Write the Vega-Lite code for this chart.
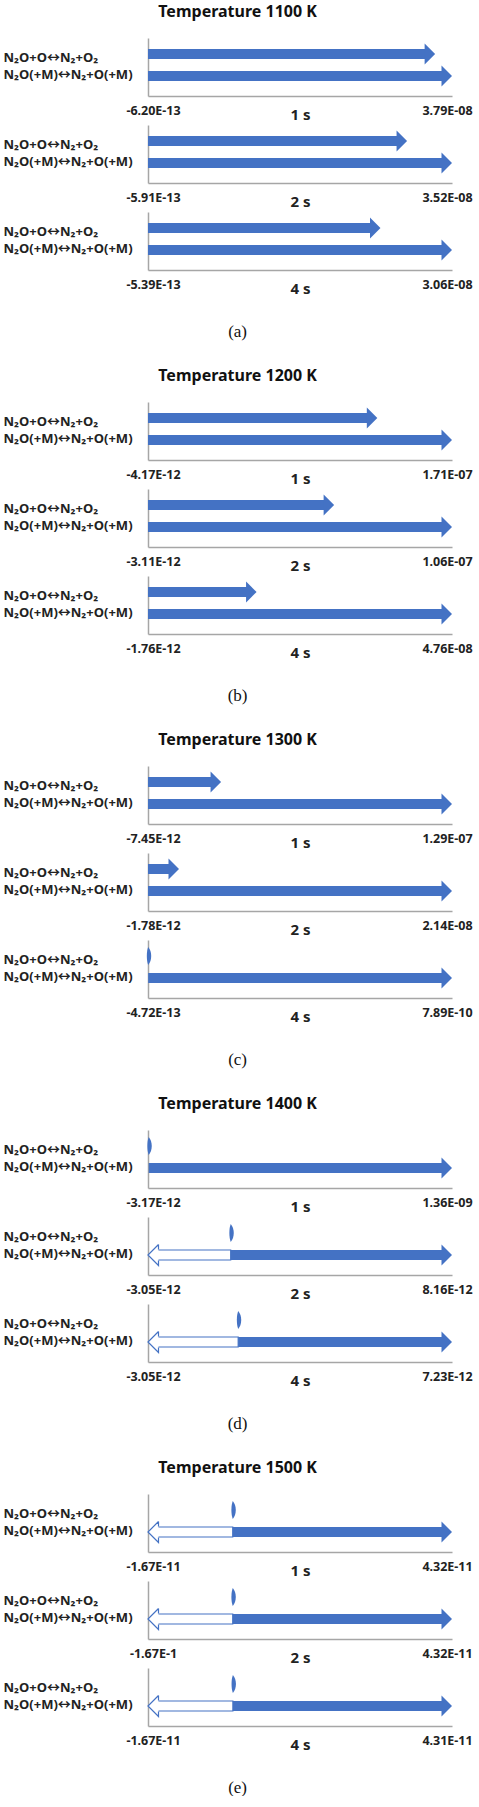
{
  "$schema": "https://vega.github.io/schema/vega-lite/v6.json",
  "background": "white",
  "padding": {"left": 3, "top": 4, "right": 0, "bottom": 0},
  "datasets": {
    "n2o": [
      {"T": 1100, "t": 1, "rxn": "N₂O+O↔N₂+O₂", "value": 3.58e-8},
      {"T": 1100, "t": 1, "rxn": "N₂O(+M)↔N₂+O(+M)", "value": 3.79e-8},
      {"T": 1100, "t": 1, "rxn": "N₂O(+M)↔N₂+O(+M)", "value": -6.2e-13},
      {"T": 1100, "t": 2, "rxn": "N₂O+O↔N₂+O₂", "value": 3.0e-8},
      {"T": 1100, "t": 2, "rxn": "N₂O(+M)↔N₂+O(+M)", "value": 3.52e-8},
      {"T": 1100, "t": 2, "rxn": "N₂O(+M)↔N₂+O(+M)", "value": -5.91e-13},
      {"T": 1100, "t": 4, "rxn": "N₂O+O↔N₂+O₂", "value": 2.34e-8},
      {"T": 1100, "t": 4, "rxn": "N₂O(+M)↔N₂+O(+M)", "value": 3.06e-8},
      {"T": 1100, "t": 4, "rxn": "N₂O(+M)↔N₂+O(+M)", "value": -5.39e-13},
      {"T": 1200, "t": 1, "rxn": "N₂O+O↔N₂+O₂", "value": 1.29e-7},
      {"T": 1200, "t": 1, "rxn": "N₂O(+M)↔N₂+O(+M)", "value": 1.71e-7},
      {"T": 1200, "t": 1, "rxn": "N₂O(+M)↔N₂+O(+M)", "value": -4.17e-12},
      {"T": 1200, "t": 2, "rxn": "N₂O+O↔N₂+O₂", "value": 6.49e-8},
      {"T": 1200, "t": 2, "rxn": "N₂O(+M)↔N₂+O(+M)", "value": 1.06e-7},
      {"T": 1200, "t": 2, "rxn": "N₂O(+M)↔N₂+O(+M)", "value": -3.11e-12},
      {"T": 1200, "t": 4, "rxn": "N₂O+O↔N₂+O₂", "value": 1.7e-8},
      {"T": 1200, "t": 4, "rxn": "N₂O(+M)↔N₂+O(+M)", "value": 4.76e-8},
      {"T": 1200, "t": 4, "rxn": "N₂O(+M)↔N₂+O(+M)", "value": -1.76e-12},
      {"T": 1300, "t": 1, "rxn": "N₂O+O↔N₂+O₂", "value": 3.1e-8},
      {"T": 1300, "t": 1, "rxn": "N₂O(+M)↔N₂+O(+M)", "value": 1.29e-7},
      {"T": 1300, "t": 1, "rxn": "N₂O(+M)↔N₂+O(+M)", "value": -7.45e-12},
      {"T": 1300, "t": 2, "rxn": "N₂O+O↔N₂+O₂", "value": 2.18e-9},
      {"T": 1300, "t": 2, "rxn": "N₂O(+M)↔N₂+O(+M)", "value": 2.14e-8},
      {"T": 1300, "t": 2, "rxn": "N₂O(+M)↔N₂+O(+M)", "value": -1.78e-12},
      {"T": 1300, "t": 4, "rxn": "N₂O+O↔N₂+O₂", "value": 0},
      {"T": 1300, "t": 4, "rxn": "N₂O(+M)↔N₂+O(+M)", "value": 7.89e-10},
      {"T": 1300, "t": 4, "rxn": "N₂O(+M)↔N₂+O(+M)", "value": -4.72e-13},
      {"T": 1400, "t": 1, "rxn": "N₂O+O↔N₂+O₂", "value": 0},
      {"T": 1400, "t": 1, "rxn": "N₂O(+M)↔N₂+O(+M)", "value": 1.36e-9},
      {"T": 1400, "t": 1, "rxn": "N₂O(+M)↔N₂+O(+M)", "value": -3.17e-12},
      {"T": 1400, "t": 2, "rxn": "N₂O+O↔N₂+O₂", "value": 0},
      {"T": 1400, "t": 2, "rxn": "N₂O(+M)↔N₂+O(+M)", "value": 8.16e-12},
      {"T": 1400, "t": 2, "rxn": "N₂O(+M)↔N₂+O(+M)", "value": -3.05e-12},
      {"T": 1400, "t": 4, "rxn": "N₂O+O↔N₂+O₂", "value": 0},
      {"T": 1400, "t": 4, "rxn": "N₂O(+M)↔N₂+O(+M)", "value": 7.23e-12},
      {"T": 1400, "t": 4, "rxn": "N₂O(+M)↔N₂+O(+M)", "value": -3.05e-12},
      {"T": 1500, "t": 1, "rxn": "N₂O+O↔N₂+O₂", "value": 0},
      {"T": 1500, "t": 1, "rxn": "N₂O(+M)↔N₂+O(+M)", "value": 4.32e-11},
      {"T": 1500, "t": 1, "rxn": "N₂O(+M)↔N₂+O(+M)", "value": -1.67e-11},
      {"T": 1500, "t": 2, "rxn": "N₂O+O↔N₂+O₂", "value": 0},
      {"T": 1500, "t": 2, "rxn": "N₂O(+M)↔N₂+O(+M)", "value": 4.32e-11},
      {"T": 1500, "t": 2, "rxn": "N₂O(+M)↔N₂+O(+M)", "value": -1.67e-11},
      {"T": 1500, "t": 4, "rxn": "N₂O+O↔N₂+O₂", "value": 0},
      {"T": 1500, "t": 4, "rxn": "N₂O(+M)↔N₂+O(+M)", "value": 4.31e-11},
      {"T": 1500, "t": 4, "rxn": "N₂O(+M)↔N₂+O(+M)", "value": -1.67e-11}
    ]
  },
  "data": {"name": "n2o"},
  "spacing": 28,
  "vconcat": [
    {
      "title": {"text": "(a)", "orient": "bottom", "font": "Liberation Serif", "fontSize": 17, "fontWeight": "normal", "offset": 28},
      "vconcat": [{
        "title": "Temperature 1100 K",
        "spacing": 3,
        "vconcat": [
          {"width": 304, "height": 58,
           "transform": [{"filter": "datum.T==1100&&datum.t==1"}, {"joinaggregate": [{"op": "max", "field": "value", "as": "pmax"}]}],
           "encoding": {
             "x": {"field": "value", "type": "quantitative", "title": "1 s", "scale": {"domain": [-6.2e-13, 3.79e-8], "nice": false, "zero": false}, "axis": {"values": [-6.2e-13, 3.79e-8]}},
             "y": {"field": "rxn", "type": "nominal", "sort": "descending", "title": null, "scale": {"paddingInner": 0, "paddingOuter": 0.318, "align": 0.357}}},
           "layer": [
             {"transform": [{"filter": "datum.value<-0.01*datum.pmax"}], "mark": {"type": "bar", "size": 10, "fill": "#ffffff", "stroke": "#4472c4", "strokeWidth": 1.2, "xOffset": 9}, "encoding": {"x2": {"datum": 0}}},
             {"transform": [{"filter": "datum.value<-0.01*datum.pmax"}], "mark": {"type": "point", "shape": "M1,-1L0,0L1,1L1,0.52M1,-0.52L1,-1", "size": 441, "filled": true, "fill": "#ffffff", "stroke": "#4472c4", "strokeWidth": 1.2, "opacity": 1}},
             {"transform": [{"filter": "datum.value>0"}], "mark": {"type": "bar", "size": 10, "color": "#4472c4", "xOffset": -6}, "encoding": {"x2": {"datum": 0}}},
             {"transform": [{"filter": "datum.value>0"}], "mark": {"type": "point", "shape": "M-1,-1L0,0L-1,1Z", "size": 441, "filled": true, "color": "#4472c4", "opacity": 1}},
             {"transform": [{"filter": "datum.value==0"}], "mark": {"type": "point", "shape": "M0,-1C0.45,-0.5 0.45,0.5 0,1C-0.2,0.5 -0.2,-0.5 0,-1Z", "size": 324, "filled": true, "color": "#4472c4", "opacity": 1}}
           ]},
          {"width": 304, "height": 58,
           "transform": [{"filter": "datum.T==1100&&datum.t==2"}, {"joinaggregate": [{"op": "max", "field": "value", "as": "pmax"}]}],
           "encoding": {
             "x": {"field": "value", "type": "quantitative", "title": "2 s", "scale": {"domain": [-5.91e-13, 3.52e-8], "nice": false, "zero": false}, "axis": {"values": [-5.91e-13, 3.52e-8]}},
             "y": {"field": "rxn", "type": "nominal", "sort": "descending", "title": null, "scale": {"paddingInner": 0, "paddingOuter": 0.318, "align": 0.357}}},
           "layer": [
             {"transform": [{"filter": "datum.value<-0.01*datum.pmax"}], "mark": {"type": "bar", "size": 10, "fill": "#ffffff", "stroke": "#4472c4", "strokeWidth": 1.2, "xOffset": 9}, "encoding": {"x2": {"datum": 0}}},
             {"transform": [{"filter": "datum.value<-0.01*datum.pmax"}], "mark": {"type": "point", "shape": "M1,-1L0,0L1,1L1,0.52M1,-0.52L1,-1", "size": 441, "filled": true, "fill": "#ffffff", "stroke": "#4472c4", "strokeWidth": 1.2, "opacity": 1}},
             {"transform": [{"filter": "datum.value>0"}], "mark": {"type": "bar", "size": 10, "color": "#4472c4", "xOffset": -6}, "encoding": {"x2": {"datum": 0}}},
             {"transform": [{"filter": "datum.value>0"}], "mark": {"type": "point", "shape": "M-1,-1L0,0L-1,1Z", "size": 441, "filled": true, "color": "#4472c4", "opacity": 1}},
             {"transform": [{"filter": "datum.value==0"}], "mark": {"type": "point", "shape": "M0,-1C0.45,-0.5 0.45,0.5 0,1C-0.2,0.5 -0.2,-0.5 0,-1Z", "size": 324, "filled": true, "color": "#4472c4", "opacity": 1}}
           ]},
          {"width": 304, "height": 58,
           "transform": [{"filter": "datum.T==1100&&datum.t==4"}, {"joinaggregate": [{"op": "max", "field": "value", "as": "pmax"}]}],
           "encoding": {
             "x": {"field": "value", "type": "quantitative", "title": "4 s", "scale": {"domain": [-5.39e-13, 3.06e-8], "nice": false, "zero": false}, "axis": {"values": [-5.39e-13, 3.06e-8]}},
             "y": {"field": "rxn", "type": "nominal", "sort": "descending", "title": null, "scale": {"paddingInner": 0, "paddingOuter": 0.318, "align": 0.357}}},
           "layer": [
             {"transform": [{"filter": "datum.value<-0.01*datum.pmax"}], "mark": {"type": "bar", "size": 10, "fill": "#ffffff", "stroke": "#4472c4", "strokeWidth": 1.2, "xOffset": 9}, "encoding": {"x2": {"datum": 0}}},
             {"transform": [{"filter": "datum.value<-0.01*datum.pmax"}], "mark": {"type": "point", "shape": "M1,-1L0,0L1,1L1,0.52M1,-0.52L1,-1", "size": 441, "filled": true, "fill": "#ffffff", "stroke": "#4472c4", "strokeWidth": 1.2, "opacity": 1}},
             {"transform": [{"filter": "datum.value>0"}], "mark": {"type": "bar", "size": 10, "color": "#4472c4", "xOffset": -6}, "encoding": {"x2": {"datum": 0}}},
             {"transform": [{"filter": "datum.value>0"}], "mark": {"type": "point", "shape": "M-1,-1L0,0L-1,1Z", "size": 441, "filled": true, "color": "#4472c4", "opacity": 1}},
             {"transform": [{"filter": "datum.value==0"}], "mark": {"type": "point", "shape": "M0,-1C0.45,-0.5 0.45,0.5 0,1C-0.2,0.5 -0.2,-0.5 0,-1Z", "size": 324, "filled": true, "color": "#4472c4", "opacity": 1}}
           ]}
        ]
      }]
    },
    {
      "title": {"text": "(b)", "orient": "bottom", "font": "Liberation Serif", "fontSize": 17, "fontWeight": "normal", "offset": 28},
      "vconcat": [{
        "title": "Temperature 1200 K",
        "spacing": 3,
        "vconcat": [
          {"width": 304, "height": 58,
           "transform": [{"filter": "datum.T==1200&&datum.t==1"}, {"joinaggregate": [{"op": "max", "field": "value", "as": "pmax"}]}],
           "encoding": {
             "x": {"field": "value", "type": "quantitative", "title": "1 s", "scale": {"domain": [-4.17e-12, 1.71e-7], "nice": false, "zero": false}, "axis": {"values": [-4.17e-12, 1.71e-7]}},
             "y": {"field": "rxn", "type": "nominal", "sort": "descending", "title": null, "scale": {"paddingInner": 0, "paddingOuter": 0.318, "align": 0.357}}},
           "layer": [
             {"transform": [{"filter": "datum.value<-0.01*datum.pmax"}], "mark": {"type": "bar", "size": 10, "fill": "#ffffff", "stroke": "#4472c4", "strokeWidth": 1.2, "xOffset": 9}, "encoding": {"x2": {"datum": 0}}},
             {"transform": [{"filter": "datum.value<-0.01*datum.pmax"}], "mark": {"type": "point", "shape": "M1,-1L0,0L1,1L1,0.52M1,-0.52L1,-1", "size": 441, "filled": true, "fill": "#ffffff", "stroke": "#4472c4", "strokeWidth": 1.2, "opacity": 1}},
             {"transform": [{"filter": "datum.value>0"}], "mark": {"type": "bar", "size": 10, "color": "#4472c4", "xOffset": -6}, "encoding": {"x2": {"datum": 0}}},
             {"transform": [{"filter": "datum.value>0"}], "mark": {"type": "point", "shape": "M-1,-1L0,0L-1,1Z", "size": 441, "filled": true, "color": "#4472c4", "opacity": 1}},
             {"transform": [{"filter": "datum.value==0"}], "mark": {"type": "point", "shape": "M0,-1C0.45,-0.5 0.45,0.5 0,1C-0.2,0.5 -0.2,-0.5 0,-1Z", "size": 324, "filled": true, "color": "#4472c4", "opacity": 1}}
           ]},
          {"width": 304, "height": 58,
           "transform": [{"filter": "datum.T==1200&&datum.t==2"}, {"joinaggregate": [{"op": "max", "field": "value", "as": "pmax"}]}],
           "encoding": {
             "x": {"field": "value", "type": "quantitative", "title": "2 s", "scale": {"domain": [-3.11e-12, 1.06e-7], "nice": false, "zero": false}, "axis": {"values": [-3.11e-12, 1.06e-7]}},
             "y": {"field": "rxn", "type": "nominal", "sort": "descending", "title": null, "scale": {"paddingInner": 0, "paddingOuter": 0.318, "align": 0.357}}},
           "layer": [
             {"transform": [{"filter": "datum.value<-0.01*datum.pmax"}], "mark": {"type": "bar", "size": 10, "fill": "#ffffff", "stroke": "#4472c4", "strokeWidth": 1.2, "xOffset": 9}, "encoding": {"x2": {"datum": 0}}},
             {"transform": [{"filter": "datum.value<-0.01*datum.pmax"}], "mark": {"type": "point", "shape": "M1,-1L0,0L1,1L1,0.52M1,-0.52L1,-1", "size": 441, "filled": true, "fill": "#ffffff", "stroke": "#4472c4", "strokeWidth": 1.2, "opacity": 1}},
             {"transform": [{"filter": "datum.value>0"}], "mark": {"type": "bar", "size": 10, "color": "#4472c4", "xOffset": -6}, "encoding": {"x2": {"datum": 0}}},
             {"transform": [{"filter": "datum.value>0"}], "mark": {"type": "point", "shape": "M-1,-1L0,0L-1,1Z", "size": 441, "filled": true, "color": "#4472c4", "opacity": 1}},
             {"transform": [{"filter": "datum.value==0"}], "mark": {"type": "point", "shape": "M0,-1C0.45,-0.5 0.45,0.5 0,1C-0.2,0.5 -0.2,-0.5 0,-1Z", "size": 324, "filled": true, "color": "#4472c4", "opacity": 1}}
           ]},
          {"width": 304, "height": 58,
           "transform": [{"filter": "datum.T==1200&&datum.t==4"}, {"joinaggregate": [{"op": "max", "field": "value", "as": "pmax"}]}],
           "encoding": {
             "x": {"field": "value", "type": "quantitative", "title": "4 s", "scale": {"domain": [-1.76e-12, 4.76e-8], "nice": false, "zero": false}, "axis": {"values": [-1.76e-12, 4.76e-8]}},
             "y": {"field": "rxn", "type": "nominal", "sort": "descending", "title": null, "scale": {"paddingInner": 0, "paddingOuter": 0.318, "align": 0.357}}},
           "layer": [
             {"transform": [{"filter": "datum.value<-0.01*datum.pmax"}], "mark": {"type": "bar", "size": 10, "fill": "#ffffff", "stroke": "#4472c4", "strokeWidth": 1.2, "xOffset": 9}, "encoding": {"x2": {"datum": 0}}},
             {"transform": [{"filter": "datum.value<-0.01*datum.pmax"}], "mark": {"type": "point", "shape": "M1,-1L0,0L1,1L1,0.52M1,-0.52L1,-1", "size": 441, "filled": true, "fill": "#ffffff", "stroke": "#4472c4", "strokeWidth": 1.2, "opacity": 1}},
             {"transform": [{"filter": "datum.value>0"}], "mark": {"type": "bar", "size": 10, "color": "#4472c4", "xOffset": -6}, "encoding": {"x2": {"datum": 0}}},
             {"transform": [{"filter": "datum.value>0"}], "mark": {"type": "point", "shape": "M-1,-1L0,0L-1,1Z", "size": 441, "filled": true, "color": "#4472c4", "opacity": 1}},
             {"transform": [{"filter": "datum.value==0"}], "mark": {"type": "point", "shape": "M0,-1C0.45,-0.5 0.45,0.5 0,1C-0.2,0.5 -0.2,-0.5 0,-1Z", "size": 324, "filled": true, "color": "#4472c4", "opacity": 1}}
           ]}
        ]
      }]
    },
    {
      "title": {"text": "(c)", "orient": "bottom", "font": "Liberation Serif", "fontSize": 17, "fontWeight": "normal", "offset": 28},
      "vconcat": [{
        "title": "Temperature 1300 K",
        "spacing": 3,
        "vconcat": [
          {"width": 304, "height": 58,
           "transform": [{"filter": "datum.T==1300&&datum.t==1"}, {"joinaggregate": [{"op": "max", "field": "value", "as": "pmax"}]}],
           "encoding": {
             "x": {"field": "value", "type": "quantitative", "title": "1 s", "scale": {"domain": [-7.45e-12, 1.29e-7], "nice": false, "zero": false}, "axis": {"values": [-7.45e-12, 1.29e-7]}},
             "y": {"field": "rxn", "type": "nominal", "sort": "descending", "title": null, "scale": {"paddingInner": 0, "paddingOuter": 0.318, "align": 0.357}}},
           "layer": [
             {"transform": [{"filter": "datum.value<-0.01*datum.pmax"}], "mark": {"type": "bar", "size": 10, "fill": "#ffffff", "stroke": "#4472c4", "strokeWidth": 1.2, "xOffset": 9}, "encoding": {"x2": {"datum": 0}}},
             {"transform": [{"filter": "datum.value<-0.01*datum.pmax"}], "mark": {"type": "point", "shape": "M1,-1L0,0L1,1L1,0.52M1,-0.52L1,-1", "size": 441, "filled": true, "fill": "#ffffff", "stroke": "#4472c4", "strokeWidth": 1.2, "opacity": 1}},
             {"transform": [{"filter": "datum.value>0"}], "mark": {"type": "bar", "size": 10, "color": "#4472c4", "xOffset": -6}, "encoding": {"x2": {"datum": 0}}},
             {"transform": [{"filter": "datum.value>0"}], "mark": {"type": "point", "shape": "M-1,-1L0,0L-1,1Z", "size": 441, "filled": true, "color": "#4472c4", "opacity": 1}},
             {"transform": [{"filter": "datum.value==0"}], "mark": {"type": "point", "shape": "M0,-1C0.45,-0.5 0.45,0.5 0,1C-0.2,0.5 -0.2,-0.5 0,-1Z", "size": 324, "filled": true, "color": "#4472c4", "opacity": 1}}
           ]},
          {"width": 304, "height": 58,
           "transform": [{"filter": "datum.T==1300&&datum.t==2"}, {"joinaggregate": [{"op": "max", "field": "value", "as": "pmax"}]}],
           "encoding": {
             "x": {"field": "value", "type": "quantitative", "title": "2 s", "scale": {"domain": [-1.78e-12, 2.14e-8], "nice": false, "zero": false}, "axis": {"values": [-1.78e-12, 2.14e-8]}},
             "y": {"field": "rxn", "type": "nominal", "sort": "descending", "title": null, "scale": {"paddingInner": 0, "paddingOuter": 0.318, "align": 0.357}}},
           "layer": [
             {"transform": [{"filter": "datum.value<-0.01*datum.pmax"}], "mark": {"type": "bar", "size": 10, "fill": "#ffffff", "stroke": "#4472c4", "strokeWidth": 1.2, "xOffset": 9}, "encoding": {"x2": {"datum": 0}}},
             {"transform": [{"filter": "datum.value<-0.01*datum.pmax"}], "mark": {"type": "point", "shape": "M1,-1L0,0L1,1L1,0.52M1,-0.52L1,-1", "size": 441, "filled": true, "fill": "#ffffff", "stroke": "#4472c4", "strokeWidth": 1.2, "opacity": 1}},
             {"transform": [{"filter": "datum.value>0"}], "mark": {"type": "bar", "size": 10, "color": "#4472c4", "xOffset": -6}, "encoding": {"x2": {"datum": 0}}},
             {"transform": [{"filter": "datum.value>0"}], "mark": {"type": "point", "shape": "M-1,-1L0,0L-1,1Z", "size": 441, "filled": true, "color": "#4472c4", "opacity": 1}},
             {"transform": [{"filter": "datum.value==0"}], "mark": {"type": "point", "shape": "M0,-1C0.45,-0.5 0.45,0.5 0,1C-0.2,0.5 -0.2,-0.5 0,-1Z", "size": 324, "filled": true, "color": "#4472c4", "opacity": 1}}
           ]},
          {"width": 304, "height": 58,
           "transform": [{"filter": "datum.T==1300&&datum.t==4"}, {"joinaggregate": [{"op": "max", "field": "value", "as": "pmax"}]}],
           "encoding": {
             "x": {"field": "value", "type": "quantitative", "title": "4 s", "scale": {"domain": [-4.72e-13, 7.89e-10], "nice": false, "zero": false}, "axis": {"values": [-4.72e-13, 7.89e-10]}},
             "y": {"field": "rxn", "type": "nominal", "sort": "descending", "title": null, "scale": {"paddingInner": 0, "paddingOuter": 0.318, "align": 0.357}}},
           "layer": [
             {"transform": [{"filter": "datum.value<-0.01*datum.pmax"}], "mark": {"type": "bar", "size": 10, "fill": "#ffffff", "stroke": "#4472c4", "strokeWidth": 1.2, "xOffset": 9}, "encoding": {"x2": {"datum": 0}}},
             {"transform": [{"filter": "datum.value<-0.01*datum.pmax"}], "mark": {"type": "point", "shape": "M1,-1L0,0L1,1L1,0.52M1,-0.52L1,-1", "size": 441, "filled": true, "fill": "#ffffff", "stroke": "#4472c4", "strokeWidth": 1.2, "opacity": 1}},
             {"transform": [{"filter": "datum.value>0"}], "mark": {"type": "bar", "size": 10, "color": "#4472c4", "xOffset": -6}, "encoding": {"x2": {"datum": 0}}},
             {"transform": [{"filter": "datum.value>0"}], "mark": {"type": "point", "shape": "M-1,-1L0,0L-1,1Z", "size": 441, "filled": true, "color": "#4472c4", "opacity": 1}},
             {"transform": [{"filter": "datum.value==0"}], "mark": {"type": "point", "shape": "M0,-1C0.45,-0.5 0.45,0.5 0,1C-0.2,0.5 -0.2,-0.5 0,-1Z", "size": 324, "filled": true, "color": "#4472c4", "opacity": 1}}
           ]}
        ]
      }]
    },
    {
      "title": {"text": "(d)", "orient": "bottom", "font": "Liberation Serif", "fontSize": 17, "fontWeight": "normal", "offset": 28},
      "vconcat": [{
        "title": "Temperature 1400 K",
        "spacing": 3,
        "vconcat": [
          {"width": 304, "height": 58,
           "transform": [{"filter": "datum.T==1400&&datum.t==1"}, {"joinaggregate": [{"op": "max", "field": "value", "as": "pmax"}]}],
           "encoding": {
             "x": {"field": "value", "type": "quantitative", "title": "1 s", "scale": {"domain": [-3.17e-12, 1.36e-9], "nice": false, "zero": false}, "axis": {"values": [-3.17e-12, 1.36e-9]}},
             "y": {"field": "rxn", "type": "nominal", "sort": "descending", "title": null, "scale": {"paddingInner": 0, "paddingOuter": 0.318, "align": 0.357}}},
           "layer": [
             {"transform": [{"filter": "datum.value<-0.01*datum.pmax"}], "mark": {"type": "bar", "size": 10, "fill": "#ffffff", "stroke": "#4472c4", "strokeWidth": 1.2, "xOffset": 9}, "encoding": {"x2": {"datum": 0}}},
             {"transform": [{"filter": "datum.value<-0.01*datum.pmax"}], "mark": {"type": "point", "shape": "M1,-1L0,0L1,1L1,0.52M1,-0.52L1,-1", "size": 441, "filled": true, "fill": "#ffffff", "stroke": "#4472c4", "strokeWidth": 1.2, "opacity": 1}},
             {"transform": [{"filter": "datum.value>0"}], "mark": {"type": "bar", "size": 10, "color": "#4472c4", "xOffset": -6}, "encoding": {"x2": {"datum": 0}}},
             {"transform": [{"filter": "datum.value>0"}], "mark": {"type": "point", "shape": "M-1,-1L0,0L-1,1Z", "size": 441, "filled": true, "color": "#4472c4", "opacity": 1}},
             {"transform": [{"filter": "datum.value==0"}], "mark": {"type": "point", "shape": "M0,-1C0.45,-0.5 0.45,0.5 0,1C-0.2,0.5 -0.2,-0.5 0,-1Z", "size": 324, "filled": true, "color": "#4472c4", "opacity": 1}}
           ]},
          {"width": 304, "height": 58,
           "transform": [{"filter": "datum.T==1400&&datum.t==2"}, {"joinaggregate": [{"op": "max", "field": "value", "as": "pmax"}]}],
           "encoding": {
             "x": {"field": "value", "type": "quantitative", "title": "2 s", "scale": {"domain": [-3.05e-12, 8.16e-12], "nice": false, "zero": false}, "axis": {"values": [-3.05e-12, 8.16e-12]}},
             "y": {"field": "rxn", "type": "nominal", "sort": "descending", "title": null, "scale": {"paddingInner": 0, "paddingOuter": 0.318, "align": 0.357}}},
           "layer": [
             {"transform": [{"filter": "datum.value<-0.01*datum.pmax"}], "mark": {"type": "bar", "size": 10, "fill": "#ffffff", "stroke": "#4472c4", "strokeWidth": 1.2, "xOffset": 9}, "encoding": {"x2": {"datum": 0}}},
             {"transform": [{"filter": "datum.value<-0.01*datum.pmax"}], "mark": {"type": "point", "shape": "M1,-1L0,0L1,1L1,0.52M1,-0.52L1,-1", "size": 441, "filled": true, "fill": "#ffffff", "stroke": "#4472c4", "strokeWidth": 1.2, "opacity": 1}},
             {"transform": [{"filter": "datum.value>0"}], "mark": {"type": "bar", "size": 10, "color": "#4472c4", "xOffset": -6}, "encoding": {"x2": {"datum": 0}}},
             {"transform": [{"filter": "datum.value>0"}], "mark": {"type": "point", "shape": "M-1,-1L0,0L-1,1Z", "size": 441, "filled": true, "color": "#4472c4", "opacity": 1}},
             {"transform": [{"filter": "datum.value==0"}], "mark": {"type": "point", "shape": "M0,-1C0.45,-0.5 0.45,0.5 0,1C-0.2,0.5 -0.2,-0.5 0,-1Z", "size": 324, "filled": true, "color": "#4472c4", "opacity": 1}}
           ]},
          {"width": 304, "height": 58,
           "transform": [{"filter": "datum.T==1400&&datum.t==4"}, {"joinaggregate": [{"op": "max", "field": "value", "as": "pmax"}]}],
           "encoding": {
             "x": {"field": "value", "type": "quantitative", "title": "4 s", "scale": {"domain": [-3.05e-12, 7.23e-12], "nice": false, "zero": false}, "axis": {"values": [-3.05e-12, 7.23e-12]}},
             "y": {"field": "rxn", "type": "nominal", "sort": "descending", "title": null, "scale": {"paddingInner": 0, "paddingOuter": 0.318, "align": 0.357}}},
           "layer": [
             {"transform": [{"filter": "datum.value<-0.01*datum.pmax"}], "mark": {"type": "bar", "size": 10, "fill": "#ffffff", "stroke": "#4472c4", "strokeWidth": 1.2, "xOffset": 9}, "encoding": {"x2": {"datum": 0}}},
             {"transform": [{"filter": "datum.value<-0.01*datum.pmax"}], "mark": {"type": "point", "shape": "M1,-1L0,0L1,1L1,0.52M1,-0.52L1,-1", "size": 441, "filled": true, "fill": "#ffffff", "stroke": "#4472c4", "strokeWidth": 1.2, "opacity": 1}},
             {"transform": [{"filter": "datum.value>0"}], "mark": {"type": "bar", "size": 10, "color": "#4472c4", "xOffset": -6}, "encoding": {"x2": {"datum": 0}}},
             {"transform": [{"filter": "datum.value>0"}], "mark": {"type": "point", "shape": "M-1,-1L0,0L-1,1Z", "size": 441, "filled": true, "color": "#4472c4", "opacity": 1}},
             {"transform": [{"filter": "datum.value==0"}], "mark": {"type": "point", "shape": "M0,-1C0.45,-0.5 0.45,0.5 0,1C-0.2,0.5 -0.2,-0.5 0,-1Z", "size": 324, "filled": true, "color": "#4472c4", "opacity": 1}}
           ]}
        ]
      }]
    },
    {
      "title": {"text": "(e)", "orient": "bottom", "font": "Liberation Serif", "fontSize": 17, "fontWeight": "normal", "offset": 28},
      "vconcat": [{
        "title": "Temperature 1500 K",
        "spacing": 3,
        "vconcat": [
          {"width": 304, "height": 58,
           "transform": [{"filter": "datum.T==1500&&datum.t==1"}, {"joinaggregate": [{"op": "max", "field": "value", "as": "pmax"}]}],
           "encoding": {
             "x": {"field": "value", "type": "quantitative", "title": "1 s", "scale": {"domain": [-1.67e-11, 4.32e-11], "nice": false, "zero": false}, "axis": {"values": [-1.67e-11, 4.32e-11]}},
             "y": {"field": "rxn", "type": "nominal", "sort": "descending", "title": null, "scale": {"paddingInner": 0, "paddingOuter": 0.318, "align": 0.357}}},
           "layer": [
             {"transform": [{"filter": "datum.value<-0.01*datum.pmax"}], "mark": {"type": "bar", "size": 10, "fill": "#ffffff", "stroke": "#4472c4", "strokeWidth": 1.2, "xOffset": 9}, "encoding": {"x2": {"datum": 0}}},
             {"transform": [{"filter": "datum.value<-0.01*datum.pmax"}], "mark": {"type": "point", "shape": "M1,-1L0,0L1,1L1,0.52M1,-0.52L1,-1", "size": 441, "filled": true, "fill": "#ffffff", "stroke": "#4472c4", "strokeWidth": 1.2, "opacity": 1}},
             {"transform": [{"filter": "datum.value>0"}], "mark": {"type": "bar", "size": 10, "color": "#4472c4", "xOffset": -6}, "encoding": {"x2": {"datum": 0}}},
             {"transform": [{"filter": "datum.value>0"}], "mark": {"type": "point", "shape": "M-1,-1L0,0L-1,1Z", "size": 441, "filled": true, "color": "#4472c4", "opacity": 1}},
             {"transform": [{"filter": "datum.value==0"}], "mark": {"type": "point", "shape": "M0,-1C0.45,-0.5 0.45,0.5 0,1C-0.2,0.5 -0.2,-0.5 0,-1Z", "size": 324, "filled": true, "color": "#4472c4", "opacity": 1}}
           ]},
          {"width": 304, "height": 58,
           "transform": [{"filter": "datum.T==1500&&datum.t==2"}, {"joinaggregate": [{"op": "max", "field": "value", "as": "pmax"}]}],
           "encoding": {
             "x": {"field": "value", "type": "quantitative", "title": "2 s", "scale": {"domain": [-1.67e-11, 4.32e-11], "nice": false, "zero": false}, "axis": {"values": [-1.67e-11, 4.32e-11], "labelExpr": "datum.value<0?'-1.67E-1':'4.32E-11'"}},
             "y": {"field": "rxn", "type": "nominal", "sort": "descending", "title": null, "scale": {"paddingInner": 0, "paddingOuter": 0.318, "align": 0.357}}},
           "layer": [
             {"transform": [{"filter": "datum.value<-0.01*datum.pmax"}], "mark": {"type": "bar", "size": 10, "fill": "#ffffff", "stroke": "#4472c4", "strokeWidth": 1.2, "xOffset": 9}, "encoding": {"x2": {"datum": 0}}},
             {"transform": [{"filter": "datum.value<-0.01*datum.pmax"}], "mark": {"type": "point", "shape": "M1,-1L0,0L1,1L1,0.52M1,-0.52L1,-1", "size": 441, "filled": true, "fill": "#ffffff", "stroke": "#4472c4", "strokeWidth": 1.2, "opacity": 1}},
             {"transform": [{"filter": "datum.value>0"}], "mark": {"type": "bar", "size": 10, "color": "#4472c4", "xOffset": -6}, "encoding": {"x2": {"datum": 0}}},
             {"transform": [{"filter": "datum.value>0"}], "mark": {"type": "point", "shape": "M-1,-1L0,0L-1,1Z", "size": 441, "filled": true, "color": "#4472c4", "opacity": 1}},
             {"transform": [{"filter": "datum.value==0"}], "mark": {"type": "point", "shape": "M0,-1C0.45,-0.5 0.45,0.5 0,1C-0.2,0.5 -0.2,-0.5 0,-1Z", "size": 324, "filled": true, "color": "#4472c4", "opacity": 1}}
           ]},
          {"width": 304, "height": 58,
           "transform": [{"filter": "datum.T==1500&&datum.t==4"}, {"joinaggregate": [{"op": "max", "field": "value", "as": "pmax"}]}],
           "encoding": {
             "x": {"field": "value", "type": "quantitative", "title": "4 s", "scale": {"domain": [-1.67e-11, 4.31e-11], "nice": false, "zero": false}, "axis": {"values": [-1.67e-11, 4.31e-11]}},
             "y": {"field": "rxn", "type": "nominal", "sort": "descending", "title": null, "scale": {"paddingInner": 0, "paddingOuter": 0.318, "align": 0.357}}},
           "layer": [
             {"transform": [{"filter": "datum.value<-0.01*datum.pmax"}], "mark": {"type": "bar", "size": 10, "fill": "#ffffff", "stroke": "#4472c4", "strokeWidth": 1.2, "xOffset": 9}, "encoding": {"x2": {"datum": 0}}},
             {"transform": [{"filter": "datum.value<-0.01*datum.pmax"}], "mark": {"type": "point", "shape": "M1,-1L0,0L1,1L1,0.52M1,-0.52L1,-1", "size": 441, "filled": true, "fill": "#ffffff", "stroke": "#4472c4", "strokeWidth": 1.2, "opacity": 1}},
             {"transform": [{"filter": "datum.value>0"}], "mark": {"type": "bar", "size": 10, "color": "#4472c4", "xOffset": -6}, "encoding": {"x2": {"datum": 0}}},
             {"transform": [{"filter": "datum.value>0"}], "mark": {"type": "point", "shape": "M-1,-1L0,0L-1,1Z", "size": 441, "filled": true, "color": "#4472c4", "opacity": 1}},
             {"transform": [{"filter": "datum.value==0"}], "mark": {"type": "point", "shape": "M0,-1C0.45,-0.5 0.45,0.5 0,1C-0.2,0.5 -0.2,-0.5 0,-1Z", "size": 324, "filled": true, "color": "#4472c4", "opacity": 1}}
           ]}
        ]
      }]
    }
  ],
  "config": {
    "view": {"stroke": null},
    "font": "Noto Sans",
    "title": {"font": "Noto Sans", "fontSize": 16, "fontWeight": "bold", "color": "#111111", "anchor": "middle", "frame": "bounds", "offset": 18},
    "axisX": {
      "domainColor": "#a6a6a6", "domainWidth": 1.5, "ticks": false, "tickSize": 0, "grid": false,
      "labelFont": "Noto Sans", "labelFontSize": 12.5, "labelFontWeight": "bold", "labelColor": "#222222",
      "labelPadding": 8, "labelOverlap": false, "labelFlush": false, "labelBound": false,
      "labelOffset": {"condition": {"test": "datum.value<0", "value": 5}, "value": -5},
      "labelExpr": "(datum.value<0?'-':'')+replace(replace(format(abs(datum.value),'.2e'),regexp('e-([0-9])$'),'E-0$1'),'e','E')",
      "titleFont": "Noto Sans", "titleFontSize": 15, "titleFontWeight": "bold", "titleColor": "#222222",
      "titleY": 18, "titleBaseline": "middle"
    },
    "axisY": {
      "domainColor": "#a6a6a6", "domainWidth": 1.5, "ticks": false, "tickSize": 0, "grid": false,
      "labelFont": "Noto Sans, Noto Sans CJK KR", "labelFontSize": 13, "labelFontWeight": "bold", "labelColor": "#222222",
      "labelAlign": "left", "labelPadding": 145, "labelLimit": 200,
      "labelOffset": {"condition": {"test": "indexof(datum.value,'(')<0", "value": 4}, "value": -1}
    }
  }
}
